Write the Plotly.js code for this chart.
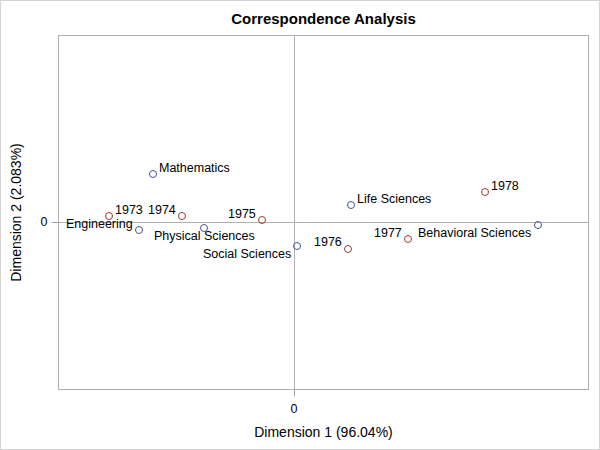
<!DOCTYPE html>
<html>
<head>
<meta charset="utf-8">
<script src="https://cdn.plot.ly/plotly-3.0.1.min.js"></script>
<style>
body{margin:0;padding:0;background:#fff;}
#wrap{position:relative;width:600px;height:450px;}
#frame{position:absolute;left:0;top:0;width:600px;height:450px;box-sizing:border-box;border:1px solid #d4d4d4;pointer-events:none;}
</style>
</head>
<body>
<div id="wrap"><div id="chart" style="width:600px;height:450px;"></div><div id="frame"></div></div>
<script>
// Row points (fields)
var fieldNames = ["Mathematics","Engineering","Physical Sciences","Social Sciences","Life Sciences","Behavioral Sciences"];
var fieldDim1 = [-0.141, -0.155, -0.090, 0.003, 0.057, 0.244];
var fieldDim2 = [0.048, -0.008, -0.006, -0.024, 0.017, -0.003];

// Column points (years)
var yearNames = ["1973","1974","1975","1976","1977","1978"];
var yearDim1 = [-0.185, -0.112, -0.032, 0.054, 0.114, 0.191];
var yearDim2 = [0.006, 0.006, 0.002, -0.027, -0.017, 0.030];

var xTicks = [0];
var yTicks = [0];

// label placement: [xanchor, xshift, yshift]
var fieldPlace = [["left",4,6],["right",-4,6],["center",0,-8],["right",-4,-8],["left",4,6],["right",-5,-8]];
var yearPlace = [["left",4,6],["right",-4,6],["right",-4,6],["right",-4,7],["right",-4,6],["left",4,6]];

var font = "Liberation Sans, Arial, sans-serif";

var traces = [
  {x: fieldDim1, y: fieldDim2, mode: "markers", type: "scatter",
   marker: {symbol: "circle-open", size: 7, color: "#445694", line: {width: 1}},
   cliponaxis: false, hoverinfo: "none", showlegend: false},
  {x: yearDim1, y: yearDim2, mode: "markers", type: "scatter",
   marker: {symbol: "circle-open", size: 7, color: "#A23A2E", line: {width: 1}},
   cliponaxis: false, hoverinfo: "none", showlegend: false}
];

var annotations = [];
function addLabels(xs, ys, names, place) {
  for (var i = 0; i < names.length; i++) {
    annotations.push({x: xs[i], y: ys[i], xref: "x", yref: "y", text: names[i], showarrow: false,
      xanchor: place[i][0], yanchor: "middle", xshift: place[i][1], yshift: place[i][2],
      font: {family: font, size: 12.5, color: "#000"}});
  }
}
addLabels(fieldDim1, fieldDim2, fieldNames, fieldPlace);
addLabels(yearDim1, yearDim2, yearNames, yearPlace);

var layout = {
  width: 600, height: 450,
  margin: {l: 59, r: 12, t: 36, b: 61, pad: 0},
  paper_bgcolor: "#fff", plot_bgcolor: "#fff",
  font: {family: font, size: 12, color: "#000"},
  title: {text: "<b>Correspondence Analysis</b>", font: {family: font, size: 15, color: "#000"}, xref: "paper", x: 0.5, xanchor: "center", y: 0.958, yanchor: "middle"},
  annotations: annotations,
  xaxis: {range: [-0.235, 0.294], tickvals: xTicks, ticktext: ["0"], ticks: "outside", ticklen: 6, tickcolor: "#9a9a9a",
          ticklabelstandoff: 2,
          showgrid: false, zeroline: true, zerolinecolor: "#b0b0b0", zerolinewidth: 1,
          showline: true, linecolor: "#b0b0b0", mirror: true, linewidth: 1,
          tickfont: {family: font, size: 12.5, color: "#000"},
          title: {text: "Dimension 1 (96.04%)", font: {family: font, size: 14, color: "#000"}, standoff: 12}},
  yaxis: {range: [-0.167, 0.186], tickvals: yTicks, ticktext: ["0"], ticks: "outside", ticklen: 6, tickcolor: "#9a9a9a",
          ticklabelstandoff: 2,
          showgrid: false, zeroline: true, zerolinecolor: "#b0b0b0", zerolinewidth: 1,
          showline: true, linecolor: "#b0b0b0", mirror: true, linewidth: 1,
          tickfont: {family: font, size: 12.5, color: "#000"},
          title: {text: "Dimension 2 (2.083%)", font: {family: font, size: 14, color: "#000"}, standoff: 15}}
};

Plotly.newPlot("chart", traces, layout, {displayModeBar: false, staticPlot: true});
</script>
</body>
</html>
